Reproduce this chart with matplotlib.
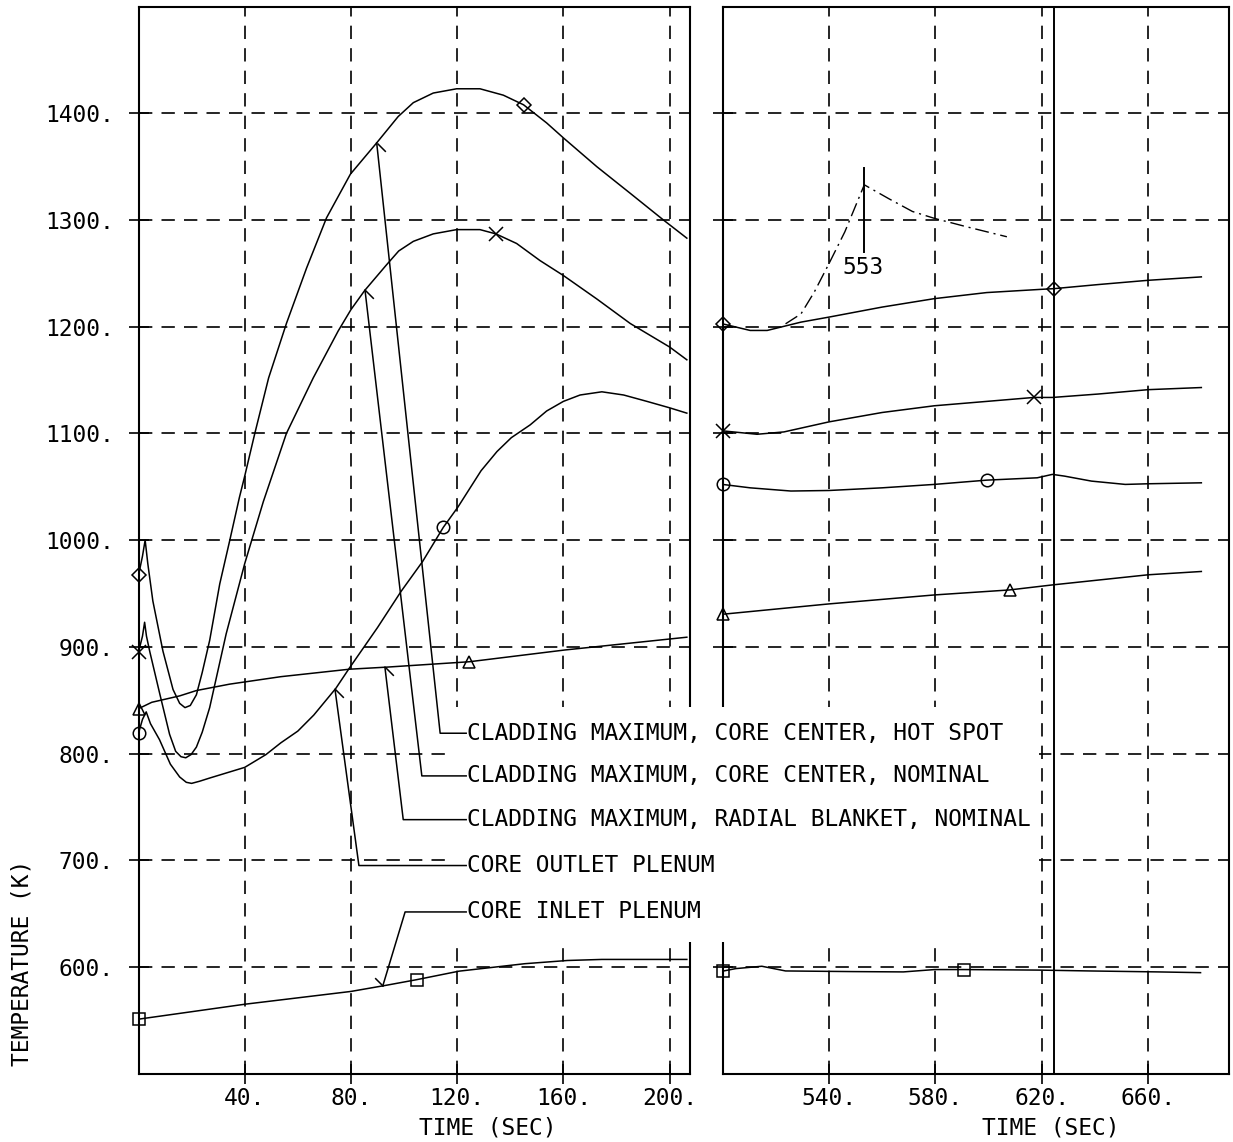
import numpy as np
import matplotlib.pyplot as plt
from matplotlib.lines import Line2D
from matplotlib.patches import Rectangle
from matplotlib.path import Path
from matplotlib.markers import MarkerStyle

# ---- data (time in s, temperature in K) ----
# early part of the transient (left panel)
t_hot = [0, 1.5, 2.5, 3.5, 5.4, 9.2, 13, 15.5, 17.5, 19.5, 21.8, 24, 26.8, 30.6, 34.3, 38,
         40, 43.8, 49, 55.7, 63.3, 70.8, 79.8, 89.6, 97.8, 103.5, 111, 119.8, 128.6,
         137.4, 145, 153.7, 160, 172.6, 185.2, 197.7, 206.5]
T_hot = [967, 985, 1000, 978, 943, 896, 860, 847, 843, 845, 855, 876, 906, 959, 999, 1040,
         1060, 1100, 1152, 1203, 1255, 1302, 1343, 1372, 1397, 1410, 1419, 1423, 1423,
         1417, 1408, 1391, 1377, 1350, 1325, 1300, 1283]

t_nom = [0, 1.5, 2.3, 3, 4.2, 8, 11.7, 14, 16, 17.8, 19.8, 21.8, 24, 26.8, 33, 40, 47,
         55.7, 65.8, 75.2, 80, 85.2, 93.4, 98, 103.5, 111, 119.8, 128.6, 134.6, 142.4,
         151.2, 160, 172.6, 185.2, 200, 206.5]
T_nom = [895, 910, 923, 910, 896, 856, 818, 802, 797, 796, 799, 806, 820, 843, 912, 978, 1036,
         1100, 1152, 1196, 1216, 1234, 1258, 1271, 1280, 1287, 1291, 1291, 1287, 1278,
         1262, 1248, 1226, 1203, 1181, 1169]

t_circ = [0, 1.5, 2.9, 4.5, 7.9, 12, 15.5, 18, 20, 23, 26.8, 40, 48, 53.6, 60, 66, 74.3,
          79.4, 90, 98.9, 107, 114.8, 120.3, 129, 135, 140.4, 147.5, 153.7, 160, 166.3,
          174.5, 182.7, 191.5, 200, 206.5]
T_circ = [819, 832, 839, 828, 813, 790, 778, 773, 772, 774, 777, 787, 799, 810, 821, 836, 861,
          880, 918, 952, 980, 1012, 1031, 1065, 1083, 1096, 1108, 1121, 1130, 1136,
          1139, 1136, 1130, 1124, 1119]

t_tri = [0, 5, 15.5, 21.8, 34.3, 53.6, 79.4, 93.8, 124.6, 160.5, 206.5]
T_tri = [842, 848, 854, 859, 865, 872, 879, 881, 886, 897, 909]

t_inl = [0, 40, 80, 93.8, 104.7, 120.7, 145.5, 161.5, 174.5, 206.5]
T_inl = [551, 565, 577, 583, 588, 596, 603, 606, 607, 607]

# late part (right panel)
t2_hot = [500, 510.4, 516.8, 529.5, 540, 560, 579.6, 599.3, 619.6, 624.7, 641.2, 660, 680]
T2_hot = [1202.7, 1196.5, 1196.5, 1204.3, 1209, 1218.4, 1226.3, 1232, 1235, 1235.7, 1239.5, 1243.5, 1246.7]

t2_nom = [500, 513, 523.1, 540, 560, 579.6, 599.3, 617, 624, 641.2, 660, 680]
T2_nom = [1102.4, 1099.2, 1101.4, 1110.8, 1119.6, 1125.9, 1130, 1133.7, 1133.7, 1136.9, 1141, 1143]

t2_circ = [500, 510.4, 525.7, 540, 560, 579.6, 599.3, 618.3, 624, 628.5, 638.7, 651.4, 660, 680]
T2_circ = [1052.2, 1049, 1046, 1046.5, 1049, 1052.2, 1056.2, 1058.4, 1061.6, 1060, 1055.3, 1052.2, 1052.8, 1053.7]

t2_tri = [500, 540, 579.6, 607.9, 624, 660, 680]
T2_tri = [930.5, 940.2, 948.6, 953.3, 958, 967.5, 970.6]

t2_inl = [500, 505, 514.8, 523.7, 549, 568, 579.7, 590.6, 619, 638, 663.8, 679.7]
T2_inl = [596, 598.4, 600.6, 596.2, 595.6, 595.3, 597.5, 597.5, 597, 596.2, 595.3, 594.6]

# dash-dot branch (case 553)
t2_dd = [523.7, 529.5, 534.5, 540, 546, 553.3, 562.5, 571.4, 579.6, 591.7, 606.9]
T2_dd = [1202.7, 1212, 1232.5, 1259, 1289, 1333, 1320, 1308, 1301.6, 1293.7, 1284.3]

# where the second symbol of each curve sits
mark_left = {"hot": 145, "nom": 134.6, "circ": 114.8, "tri": 124.6, "inl": 104.7}
mark_right = {"hot": 624.7, "nom": 617, "circ": 599.3, "tri": 607.9, "inl": 590.6}

labels = ["CLADDING MAXIMUM, CORE CENTER, HOT SPOT",
          "CLADDING MAXIMUM, CORE CENTER, NOMINAL",
          "CLADDING MAXIMUM, RADIAL BLANKET, NOMINAL",
          "CORE OUTLET PLENUM",
          "CORE INLET PLENUM"]
label_series = ["hot", "nom", "tri", "circ", "inl"]
tip_t = [89.7, 85.3, 92.8, 74.0, 92.0]
corner_t = [113.6, 106.7, 99.7, 83.0, 100.4]
label_T = [819, 779, 738, 695, 651.5]

yticks = [600, 700, 800, 900, 1000, 1100, 1200, 1300, 1400]
xticks_left = [40, 80, 120, 160, 200]
xticks_right = [540, 580, 620, 660]

plt.rcParams['font.family'] = ['DejaVu Sans Mono']
FS = 16.5

left_series = {"hot": (t_hot, T_hot), "nom": (t_nom, T_nom), "circ": (t_circ, T_circ),
               "tri": (t_tri, T_tri), "inl": (t_inl, T_inl)}
right_series = {"hot": (t2_hot, T2_hot), "nom": (t2_nom, T2_nom), "circ": (t2_circ, T2_circ),
                "tri": (t2_tri, T2_tri), "inl": (t2_inl, T2_inl)}
markers = {"hot": ("D", 7), "nom": ("x", 9.5), "circ": ("o", 9), "tri": ("^", 9), "inl": ("s", 8)}

fig = plt.figure(figsize=(12.33, 11.42), dpi=100, facecolor="white")
ax1 = fig.add_axes([0.11233, 0.0599, 0.4473, 0.9343])
ax2 = fig.add_axes([0.58597, 0.0599, 0.41079, 0.9343])


def style_axes(ax, xticks):
    ax.set_ylim(500, 1500)
    ax.set_xticks(xticks)
    ax.set_yticks(yticks)
    ax.xaxis.set_major_formatter(lambda v, p: f"{int(v)}.")
    ax.yaxis.set_major_formatter(lambda v, p: f"{int(v)}.")
    ax.tick_params(direction="inout", length=14, width=1.2, labelsize=FS, color="black")
    ax.tick_params(axis="x", pad=2.5)
    ax.tick_params(axis="y", pad=11)
    ax.grid(True, color="black", lw=1.2, ls=(0, (8, 5.5)))
    for sp in ax.spines.values():
        sp.set_linewidth(1.5)
    ax.set_xlabel("TIME (SEC)", fontsize=FS)


def draw_curves(ax, series, mark_at):
    for key, (t, temp) in series.items():
        ax.plot(t, temp, color="black", lw=1.1)
        mt = np.array([t[0], mark_at[key]])
        m, ms = markers[key]
        ax.plot(mt, np.interp(mt, t, temp), ls="none", marker=m, ms=ms, mfc="none",
                mec="black", mew=1.1, clip_on=False, zorder=4)


style_axes(ax1, xticks_left)
ax1.set_xlim(0, 207.7)
ax1.xaxis.set_label_coords(0.633, -0.04)
draw_curves(ax1, left_series, mark_left)

style_axes(ax2, xticks_right)
ax2.set_xlim(500, 690.4)
ax2.tick_params(axis="y", labelleft=False)
ax2.xaxis.set_label_coords(0.6486, -0.04)
draw_curves(ax2, right_series, mark_right)
ax2.axvline(624.6, color="black", lw=1.4)
ax2.plot(t2_dd, T2_dd, color="black", lw=1.0, ls=(0, (10, 3.5, 1.5, 3.5)))
ax2.plot([553.3, 553.3], [1270, 1349], color="black", lw=1.4)
ax2.text(553, 1266, "553", ha="center", va="top", fontsize=FS)

ax1.text(-0.212, 0.104, "TEMPERATURE (K)", transform=ax1.transAxes, rotation=90,
         ha="center", va="center", fontsize=FS)

# blank area behind the curve labels (spans both panels)
fig.add_artist(Rectangle((116.4, 623.4), 339 - 116.4, 843.6 - 623.4, transform=ax1.transData,
                         facecolor="white", edgecolor="none", zorder=1))

barb_up = MarkerStyle(Path([(0, 0), (1, -1)], [Path.MOVETO, Path.LINETO]))
barb_down = MarkerStyle(Path([(0, 0), (-1, 1)], [Path.MOVETO, Path.LINETO]))
for text, key, tt, ct, lt in zip(labels, label_series, tip_t, corner_t, label_T):
    st, sT = left_series[key]
    tip_T = np.interp(tt, st, sT)
    fig.add_artist(Line2D([tt, ct, 123.4], [tip_T, lt, lt], transform=ax1.transData,
                          color="black", lw=1.1, zorder=3))
    barb = barb_down if tip_T < lt else barb_up
    fig.add_artist(Line2D([tt], [tip_T], transform=ax1.transData, ls="none", marker=barb,
                          ms=12, mec="black", mew=1.1, zorder=3))
    fig.text(123.6, lt, text, transform=ax1.transData, ha="left", va="center",
             fontsize=FS, zorder=3)

fig.savefig("out.png", dpi=100, facecolor="white")
